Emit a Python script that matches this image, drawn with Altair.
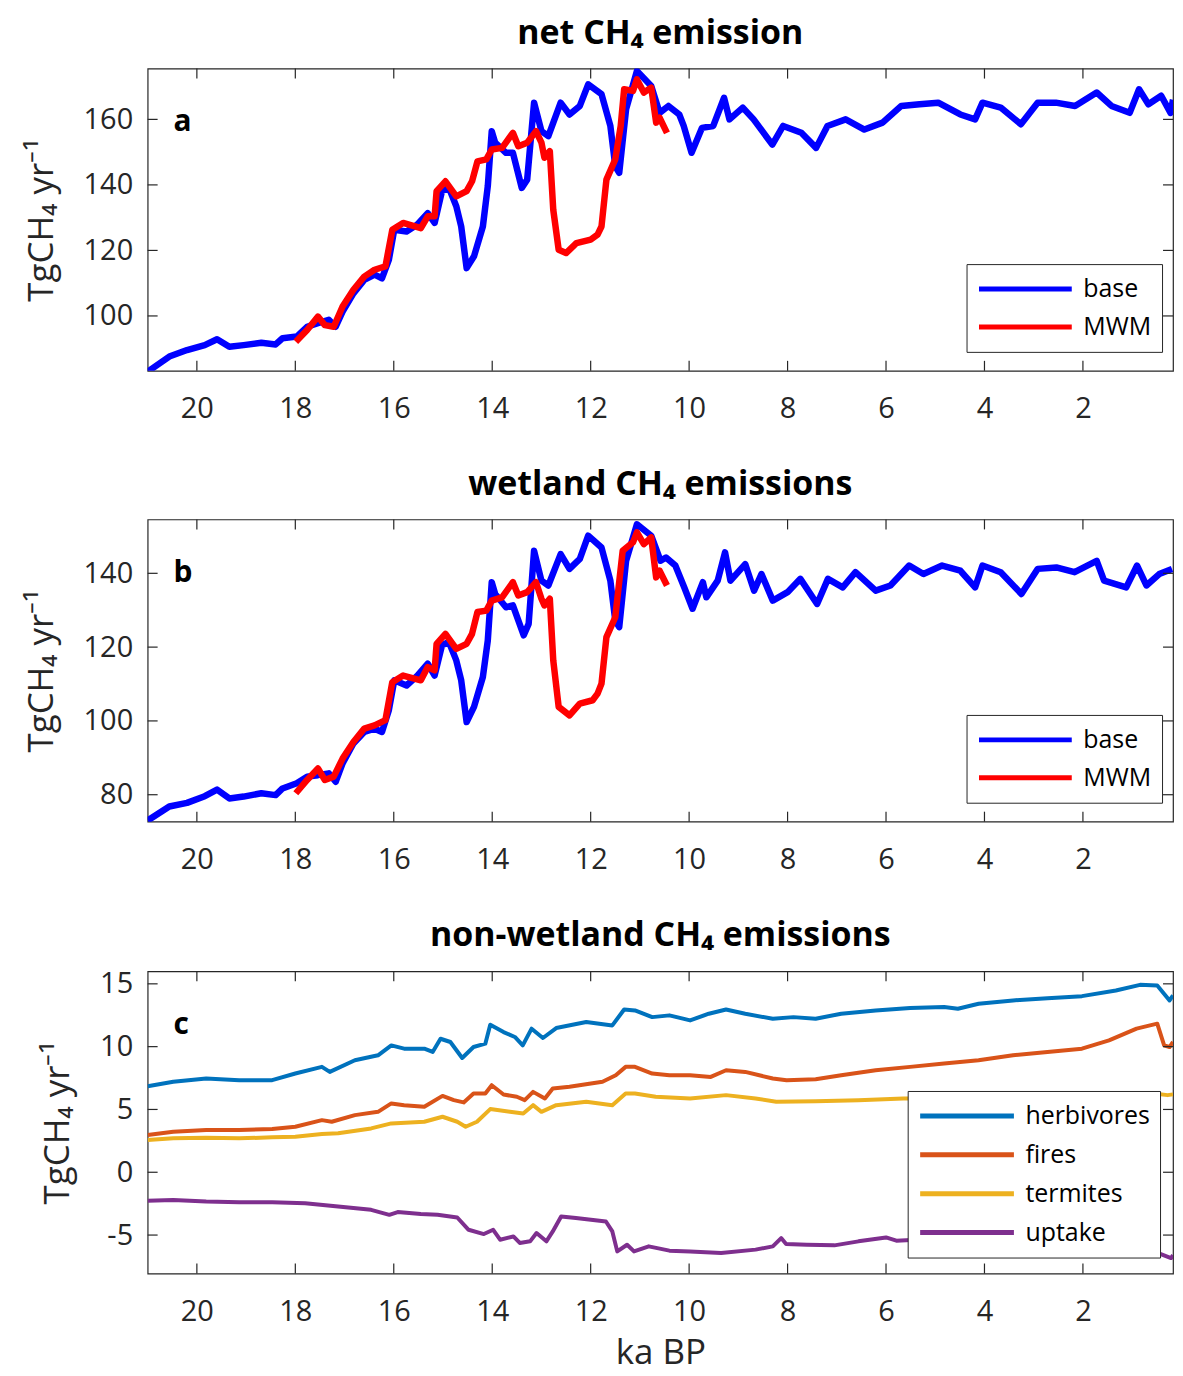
import altair as alt
import pandas as pd

# ---------------- data ----------------
# (a) net CH4 emission
net_base_ka = [21.0, 20.56, 20.2, 19.84, 19.59, 19.34, 19.05, 18.69, 18.4, 18.26, 17.97, 17.76, 17.54, 17.32,
               17.18, 17.04, 16.82, 16.6, 16.39, 16.24, 16.1, 15.99, 15.74, 15.52, 15.31, 15.17, 15.02, 14.88,
               14.73, 14.63, 14.52, 14.37, 14.19, 14.09, 14.01, 13.94, 13.72, 13.58, 13.4, 13.29, 13.15, 13.0,
               12.86, 12.61, 12.43, 12.22, 12.05, 11.78, 11.6, 11.5, 11.42, 11.28, 11.06, 10.77, 10.6, 10.42,
               10.2, 10.11, 9.95, 9.74, 9.51, 9.29, 9.18, 8.91, 8.69, 8.31, 8.09, 7.72, 7.42, 7.19, 6.82, 6.44,
               6.07, 5.69, 5.32, 4.94, 4.49, 4.19, 4.04, 3.67, 3.26, 2.92, 2.55, 2.16, 1.72, 1.42, 1.05, 0.86,
               0.67, 0.41, 0.22, 0.17]
net_base_val = [83.0, 87.6, 89.6, 91.1, 92.9, 90.6, 91.1, 91.8, 91.3, 93.2, 93.7, 96.7, 97.8, 98.8,
                96.7, 101.3, 106.9, 111.0, 112.6, 111.5, 117.1, 126.3, 125.8, 127.9, 131.4, 128.4, 138.1, 139.1,
                133.5, 127.3, 114.6, 118.2, 127.3, 139.6, 156.4, 152.9, 149.8, 149.8, 139.1, 141.6, 165.1, 156.4,
                154.9, 165.1, 161.5, 164.1, 170.7, 167.7, 158.0, 145.7, 143.7, 163.1, 174.8, 170.2, 162.0, 164.1,
                161.5, 158.0, 149.8, 157.4, 158.0, 166.6, 160.0, 163.6, 160.0, 152.3, 158.0, 155.9, 151.3, 158.0,
                160.0, 156.9, 159.0, 164.1, 164.6, 165.1, 161.5, 160.0, 165.1, 163.6, 158.5, 165.1, 165.1, 164.1,
                168.2, 164.1, 162.0, 169.2, 164.6, 167.2, 162.0, 166.0]
net_mwm_ka = [17.99, 17.76, 17.54, 17.4, 17.22, 17.04, 16.82, 16.6, 16.39, 16.17, 16.03, 15.81, 15.45, 15.31,
              15.17, 15.13, 14.95, 14.73, 14.52, 14.41, 14.3, 14.12, 14.01, 13.8, 13.58, 13.47, 13.29, 13.11,
              13.0, 12.94, 12.83, 12.76, 12.65, 12.5, 12.29, 12.0, 11.86, 11.78, 11.68, 11.5, 11.39, 11.32,
              11.14, 11.06, 10.92, 10.77, 10.67, 10.6, 10.45]
net_mwm_val = [92.1, 95.7, 99.8, 97.2, 96.7, 102.9, 108.0, 112.0, 114.1, 115.1, 126.3, 128.4, 126.8, 130.4,
               130.4, 138.1, 141.1, 136.5, 138.1, 141.1, 147.2, 147.8, 150.8, 151.3, 155.9, 151.8, 152.9, 156.4,
               152.9, 148.3, 150.3, 132.4, 120.2, 119.2, 122.2, 123.3, 124.8, 127.3, 141.6, 147.8, 158.0, 169.2,
               168.7, 172.2, 168.2, 169.7, 159.0, 160.5, 155.9]

# (b) wetland CH4 emissions
wet_base_ka = [21.0, 20.56, 20.2, 19.84, 19.59, 19.34, 19.05, 18.69, 18.4, 18.26, 17.97, 17.76, 17.54, 17.32,
               17.18, 17.04, 16.82, 16.6, 16.39, 16.24, 16.1, 15.99, 15.74, 15.52, 15.31, 15.17, 15.02, 14.88,
               14.73, 14.63, 14.52, 14.37, 14.19, 14.09, 14.01, 13.94, 13.72, 13.58, 13.36, 13.26, 13.15, 13.0,
               12.86, 12.61, 12.43, 12.22, 12.05, 11.78, 11.6, 11.5, 11.42, 11.28, 11.06, 10.77, 10.58, 10.47,
               10.28, 10.1, 9.93, 9.72, 9.65, 9.42, 9.27, 9.16, 8.86, 8.68, 8.53, 8.3, 8.0, 7.74, 7.4, 7.18,
               6.88, 6.62, 6.21, 5.91, 5.53, 5.24, 4.86, 4.49, 4.19, 4.04, 3.67, 3.25, 2.92, 2.54, 2.17, 1.72,
               1.57, 1.12, 0.9, 0.71, 0.45, 0.19]
wet_base_val = [73.0, 76.8, 77.8, 79.6, 81.4, 79.0, 79.5, 80.4, 79.9, 81.7, 83.1, 84.9, 85.3, 85.8,
                83.5, 88.5, 93.9, 97.0, 97.9, 97.0, 102.9, 111.0, 109.6, 112.3, 115.5, 112.3, 120.5, 121.4,
                116.4, 111.0, 99.7, 103.8, 111.9, 121.8, 137.6, 134.4, 130.8, 131.3, 123.2, 126.3, 146.1, 138.0,
                136.7, 145.2, 141.2, 143.9, 150.2, 147.0, 138.0, 127.2, 125.4, 143.4, 153.3, 150.2, 143.4, 144.3,
                142.1, 136.2, 130.4, 137.6, 133.5, 138.0, 145.7, 138.0, 142.5, 135.3, 139.8, 132.6, 134.9, 138.5,
                131.7, 138.5, 136.2, 140.3, 135.3, 136.7, 142.1, 139.8, 142.1, 140.7, 136.2, 142.1, 140.3, 134.4,
                141.2, 141.6, 140.3, 143.4, 138.0, 136.2, 142.1, 136.7, 139.8, 141.2]
wet_mwm_ka = [17.99, 17.76, 17.54, 17.4, 17.22, 17.04, 16.82, 16.6, 16.39, 16.17, 16.03, 15.81, 15.45, 15.31,
              15.17, 15.13, 14.95, 14.73, 14.52, 14.41, 14.3, 14.12, 14.01, 13.8, 13.58, 13.47, 13.29, 13.11,
              13.0, 12.94, 12.83, 12.76, 12.65, 12.43, 12.22, 11.96, 11.86, 11.78, 11.68, 11.5, 11.35, 11.14,
              11.06, 10.92, 10.77, 10.67, 10.6, 10.45]
wet_mwm_val = [80.4, 84.0, 87.1, 84.0, 84.9, 89.8, 94.3, 97.9, 98.8, 100.2, 110.5, 112.3, 111.0, 114.6,
               113.7, 120.9, 123.6, 119.5, 120.9, 123.6, 129.5, 129.9, 132.6, 133.5, 137.6, 134.0, 134.9, 137.6,
               133.1, 131.3, 133.1, 116.4, 103.8, 101.5, 104.7, 105.6, 107.4, 110.1, 122.7, 128.1, 146.1, 148.4,
               151.1, 147.9, 149.7, 138.9, 140.7, 136.7]

# (c) non-wetland CH4 emissions
herb_ka = [21.0, 20.48, 19.81, 19.14, 18.47, 18.0, 17.46, 17.3, 16.79, 16.32, 16.05, 15.79, 15.38, 15.21,
           15.05, 14.85, 14.61, 14.38, 14.14, 14.04, 13.77, 13.54, 13.38, 13.2, 12.97, 12.7, 12.09, 11.56,
           11.32, 11.1, 10.75, 10.4, 9.98, 9.6, 9.25, 8.86, 8.3, 7.88, 7.43, 6.91, 6.21, 5.51, 4.82, 4.54,
           4.12, 3.42, 2.72, 2.02, 1.33, 0.84, 0.49, 0.24, 0.17]
herb_val = [6.85, 7.2, 7.46, 7.33, 7.33, 7.86, 8.39, 7.99, 8.92, 9.31, 10.1, 9.84, 9.84, 9.58,
            10.63, 10.37, 9.1, 9.97, 10.24, 11.75, 11.16, 10.77, 10.1, 11.43, 10.69, 11.48, 11.96, 11.69,
            12.96, 12.88, 12.35, 12.49, 12.09, 12.62, 12.96, 12.62, 12.22, 12.35, 12.22, 12.62, 12.88, 13.07,
            13.15, 13.02, 13.41, 13.68, 13.86, 14.02, 14.47, 14.92, 14.87, 13.68, 14.07]
fire_ka = [21.0, 20.48, 19.81, 19.14, 18.47, 18.0, 17.46, 17.26, 16.79, 16.32, 16.05, 15.79, 15.38, 15.01,
           14.78, 14.58, 14.38, 14.14, 14.01, 13.77, 13.5, 13.34, 13.17, 12.93, 12.77, 12.43, 11.76, 11.49,
           11.29, 11.1, 10.75, 10.4, 9.98, 9.56, 9.25, 8.86, 8.3, 8.02, 7.43, 6.91, 6.21, 5.51, 4.82, 4.12,
           3.42, 2.72, 2.02, 1.47, 0.91, 0.49, 0.35, 0.24, 0.17]
fire_val = [2.96, 3.23, 3.36, 3.36, 3.44, 3.62, 4.15, 4.02, 4.55, 4.81, 5.48, 5.34, 5.21, 6.08,
            5.74, 5.56, 6.27, 6.27, 6.93, 6.19, 6.01, 5.74, 6.4, 5.87, 6.67, 6.8, 7.2, 7.72,
            8.39, 8.39, 7.86, 7.72, 7.72, 7.59, 8.12, 7.99, 7.46, 7.33, 7.41, 7.72, 8.12, 8.39, 8.65, 8.92,
            9.31, 9.58, 9.84, 10.5, 11.43, 11.83, 10.1, 9.97, 10.37]
term_ka = [21.0, 20.48, 19.81, 19.14, 18.47, 18.0, 17.46, 17.13, 16.46, 16.05, 15.38, 15.01, 14.71, 14.54,
           14.31, 14.04, 13.64, 13.37, 13.17, 13.0, 12.7, 12.09, 11.56, 11.29, 11.1, 10.68, 9.98, 9.25,
           8.65, 8.23, 7.43, 6.56, 5.65, 4.5, 3.0, 1.5, 0.56, 0.28, 0.17]
term_val = [2.57, 2.7, 2.75, 2.7, 2.78, 2.83, 3.04, 3.1, 3.49, 3.89, 4.02, 4.42, 4.02, 3.62,
            4.02, 5.03, 4.81, 4.68, 5.34, 4.81, 5.34, 5.61, 5.34, 6.27, 6.27, 6.01, 5.87, 6.14,
            5.87, 5.61, 5.66, 5.74, 5.87, 5.9, 6.0, 6.1, 6.27, 6.14, 6.2]
upt_ka = [21.0, 20.48, 19.81, 19.14, 18.47, 17.8, 17.13, 16.46, 16.09, 15.92, 15.45, 15.11, 14.71, 14.48,
          14.17, 13.98, 13.84, 13.57, 13.44, 13.23, 13.1, 12.9, 12.77, 12.6, 12.3, 11.69, 11.56, 11.46,
          11.26, 11.12, 10.82, 10.4, 9.98, 9.35, 8.65, 8.3, 8.13, 8.03, 7.61, 7.05, 6.56, 6.0, 5.79,
          4.5, 3.0, 1.5, 0.56, 0.21, 0.17]
upt_val = [-2.27, -2.2, -2.33, -2.38, -2.38, -2.46, -2.72, -2.99, -3.39, -3.17, -3.33, -3.39, -3.6, -4.58,
           -4.92, -4.58, -5.37, -5.11, -5.63, -5.5, -4.84, -5.5, -4.71, -3.52, -3.65, -3.92, -4.71, -6.3,
           -5.77, -6.3, -5.9, -6.24, -6.3, -6.43, -6.16, -5.9, -5.24, -5.71, -5.77, -5.82, -5.5, -5.19, -5.45,
           -5.2, -5.3, -5.7, -6.3, -6.83, -6.6]

# labels, ticks and colours
panel_titles = ["net CH₄ emission", "wetland CH₄ emissions", "non-wetland CH₄ emissions"]
panel_letters = ["a", "b", "c"]
y_title = "TgCH₄ yr⁻¹"
x_title = "ka BP"
x_ticks = [20, 18, 16, 14, 12, 10, 8, 6, 4, 2]
x_domain = [0.17, 21.0]
a_yticks = [100, 120, 140, 160]
a_ydomain = [83.25, 175.5]
b_yticks = [80, 100, 120, 140]
b_ydomain = [72.7, 154.6]
c_yticks = [-5, 0, 5, 10, 15]
c_ydomain = [-8.06, 16.0]
ab_names = ["base", "MWM"]
ab_colors = ["#0000FF", "#FF0000"]
c_names = ["herbivores", "fires", "termites", "uptake"]
c_colors = ["#0072BD", "#D95319", "#EDB120", "#7E2F8E"]

# ---------------- styling ----------------
FONT = "Open Sans"
AXC = "#262626"
W, H = 1028, 303
TICK = 10


def panel(series, names, colors, ydomain, yticks, title, letter, legend_x, legend_y,
          line_w, sym_len, row_pad, show_x_title):
    xs = alt.Scale(domain=x_domain, reverse=True, nice=False, zero=False)
    ys = alt.Scale(domain=ydomain, nice=False, zero=False)
    xaxis = alt.Axis(values=x_ticks, labelPadding=24, labelOverlap=False, labelFlush=False,
                     ticks=False, tickSize=0, domain=False, grid=False,
                     labelExpr="'' + datum.value", titlePadding=9)
    yaxis = alt.Axis(values=yticks, labelPadding=15, titlePadding=24, labelOverlap=False,
                     ticks=False, tickSize=0, domain=False, grid=False,
                     labelExpr="'' + datum.value")
    if show_x_title:
        X = alt.X("ka:Q", scale=xs, axis=xaxis, title=x_title)
    else:
        X = alt.X("ka:Q", scale=xs, axis=xaxis, title=None)
    Y = alt.Y("val:Q", scale=ys, axis=yaxis, title=y_title)
    legend = alt.Legend(orient="none", legendX=legend_x, legendY=legend_y, title=None,
                        direction="vertical", symbolType="stroke", symbolSize=sym_len * sym_len,
                        symbolStrokeWidth=5, clipHeight=30, rowPadding=row_pad, padding=10,
                        labelFont=FONT, labelFontSize=25, labelColor="#000000", labelOffset=9,
                        fillColor="white", strokeColor=AXC)
    color = alt.Color("series:N", scale=alt.Scale(domain=names, range=colors), legend=legend)

    layers = []
    for (ka, val), name in zip(series, names):
        df = pd.DataFrame({"ka": ka, "val": val, "series": name})
        layers.append(alt.Chart(df).mark_line(strokeWidth=line_w, clip=True, strokeJoin="round")
                      .encode(x=X, y=Y, color=color))

    xt = pd.DataFrame({"ka": x_ticks})
    yt = pd.DataFrame({"val": yticks})
    rs = dict(color=AXC, strokeWidth=1.2)
    layers += [
        alt.Chart(xt).mark_rule(**rs).encode(x=X, y=alt.value(H), y2=alt.value(H - TICK)),
        alt.Chart(xt).mark_rule(**rs).encode(x=X, y=alt.value(0), y2=alt.value(TICK)),
        alt.Chart(yt).mark_rule(**rs).encode(y=Y, x=alt.value(0), x2=alt.value(TICK)),
        alt.Chart(yt).mark_rule(**rs).encode(y=Y, x=alt.value(W - TICK), x2=alt.value(W)),
        alt.Chart(pd.DataFrame({"t": [letter]})).mark_text(
            font=FONT, fontSize=30, fontWeight="bold", align="left", baseline="alphabetic",
            color="#000000").encode(text="t:N", x=alt.value(26), y=alt.value(63)),
    ]
    return alt.layer(*layers).properties(
        width=W, height=H,
        title=alt.TitleParams(title, frame="group", anchor="middle", offset=17))


pa = panel([(net_base_ka, net_base_val), (net_mwm_ka, net_mwm_val)], ab_names, ab_colors,
           a_ydomain, a_yticks, panel_titles[0], panel_letters[0], 821, 196, 6.5, 93, 8, False)
pb = panel([(wet_base_ka, wet_base_val), (wet_mwm_ka, wet_mwm_val)], ab_names, ab_colors,
           b_ydomain, b_yticks, panel_titles[1], panel_letters[1], 821, 196, 6.5, 93, 8, False)
pc = panel([(herb_ka, herb_val), (fire_ka, fire_val), (term_ka, term_val), (upt_ka, upt_val)],
           c_names, c_colors, c_ydomain, c_yticks, panel_titles[2], panel_letters[2],
           762, 120, 4, 94, 9, True)

chart = (
    alt.vconcat(pa, pb, pc, spacing=42)
    .resolve_scale(x="independent", y="independent", color="independent")
    .resolve_legend(color="independent")
    .properties(padding={"left": 15, "top": 6, "right": 0, "bottom": 0})
    .configure_view(stroke=AXC, strokeWidth=1.2)
    .configure_axis(labelFont=FONT, labelFontSize=29, labelColor=AXC,
                    titleFont=FONT, titleFontSize=35, titleFontWeight="normal", titleColor=AXC)
    .configure_title(font=FONT, fontSize=34, fontWeight="bold", color="#000000")
)

chart.save("out.html", embed_options={"renderer": "svg", "actions": False})
